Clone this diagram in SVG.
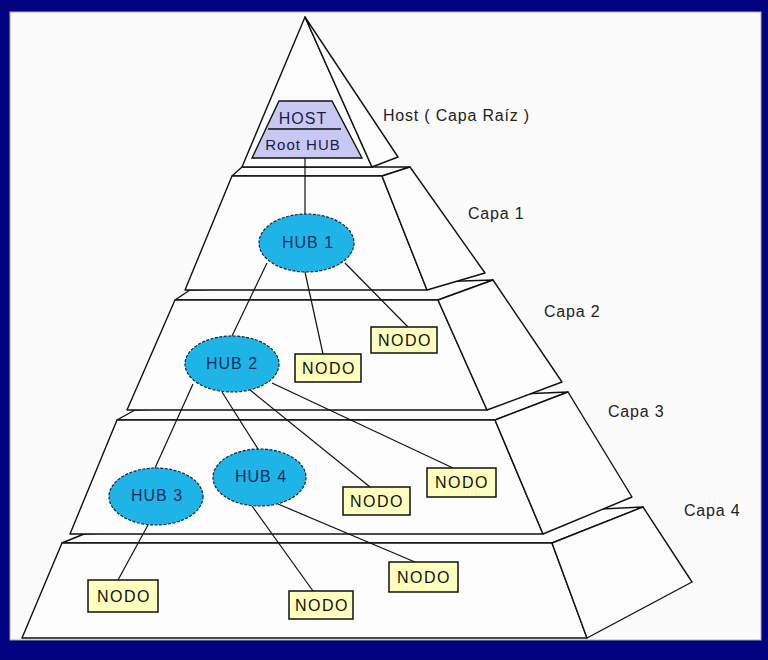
<svg xmlns="http://www.w3.org/2000/svg" width="768" height="660" viewBox="0 0 768 660">
<style>
.face{fill:#fdfdfd;stroke:#111;stroke-width:1.4;stroke-linejoin:round}
.conn line{stroke:#111;stroke-width:1.2}
.hub{fill:#1eb4e8;stroke:#0a2540;stroke-width:1.2;stroke-dasharray:3 1.5}
.hubt{font-family:"Liberation Sans",Arial,sans-serif;font-size:16px;letter-spacing:1px;fill:#14305a;text-anchor:middle}
.box{fill:#ffffbe;stroke:#111;stroke-width:1.5}
.boxt{font-family:"Liberation Sans",Arial,sans-serif;font-size:16px;letter-spacing:1.5px;fill:#111;text-anchor:middle}
.lbl{font-family:"Liberation Sans",Arial,sans-serif;font-size:16px;letter-spacing:0.8px;fill:#222}
.hostt{font-family:"Liberation Sans",Arial,sans-serif;letter-spacing:1px;fill:#1a1a50;text-anchor:middle}
</style>
<rect x="0" y="0" width="768" height="660" fill="#03037f"/>
<rect x="10" y="12" width="751" height="628" fill="#fbfbfc" stroke="#a8a8c4" stroke-width="1"/>
<g id="pyramid">
<g id="layer4">
<polygon class="face" points="62,543 84,534 643,507 552,543"/>
<polygon class="face" points="62,543 552,543 587,638 22,638"/>
<polygon class="face" points="552,543 643,507 692,582 587,638"/>
</g>
<g id="layer3">
<polygon class="face" points="117,420 135,410 568,392 495,420"/>
<polygon class="face" points="117,420 495,420 543,534 70,534"/>
<polygon class="face" points="495,420 568,392 632,497 543,534"/>
</g>
<g id="layer2">
<polygon class="face" points="175,300 190,290 493,280 438,300"/>
<polygon class="face" points="175,300 438,300 487,410 127,410"/>
<polygon class="face" points="438,300 493,280 562,382 487,410"/>
</g>
<g id="layer1">
<polygon class="face" points="232,176 242,167 410,167 382,176"/>
<polygon class="face" points="232,176 382,176 427,290 185,290"/>
<polygon class="face" points="382,176 410,167 485,273 427,290"/>
</g>
<g id="layer0">
<polygon class="face" points="305,17 242,167 372,167"/>
<polygon class="face" points="305,17 398,157 372,167"/>
</g>
</g>
<g id="labels">
<text class="lbl" x="383" y="121">Host ( Capa Raíz )</text>
<text class="lbl" x="468" y="219">Capa 1</text>
<text class="lbl" x="544" y="317">Capa 2</text>
<text class="lbl" x="608" y="417">Capa 3</text>
<text class="lbl" x="684" y="516">Capa 4</text>
</g>
<g id="connectors" class="conn">
<line x1="305" y1="158" x2="305" y2="214"/>
<line x1="267" y1="263" x2="232" y2="336"/>
<line x1="305" y1="272" x2="323" y2="354"/>
<line x1="345" y1="263" x2="408" y2="327"/>
<line x1="193" y1="384" x2="155" y2="468"/>
<line x1="222" y1="392" x2="258" y2="449"/>
<line x1="250" y1="390" x2="370" y2="487"/>
<line x1="272" y1="383" x2="453" y2="468"/>
<line x1="148" y1="525" x2="118" y2="580"/>
<line x1="252" y1="506" x2="313" y2="591"/>
<line x1="278" y1="504" x2="415" y2="562"/>
</g>
<g id="host">
<polygon points="279,101 332,101 362,158 252,158" fill="#c8c8f2" stroke="#111" stroke-width="1.4"/>
<line x1="268" y1="129" x2="341" y2="129" stroke="#111" stroke-width="1.4"/>
<text class="hostt" x="303" y="124" font-size="16">HOST</text>
<text class="hostt" x="303" y="150" font-size="15">Root HUB</text>
</g>
<g id="hub1"><ellipse class="hub" cx="306.5" cy="243" rx="47.5" ry="29"/><text class="hubt" x="308" y="248">HUB 1</text></g>
<g id="hub2"><ellipse class="hub" cx="232" cy="364" rx="47" ry="28"/><text class="hubt" x="232" y="369">HUB 2</text></g>
<g id="hub3"><ellipse class="hub" cx="156" cy="496.5" rx="47" ry="28.5"/><text class="hubt" x="157" y="501">HUB 3</text></g>
<g id="hub4"><ellipse class="hub" cx="259.5" cy="477.5" rx="46.5" ry="28.5"/><text class="hubt" x="261" y="482">HUB 4</text></g>
<g id="nodo1"><rect class="box" x="371" y="327" width="66" height="26"/><text class="boxt" x="405" y="346">NODO</text></g>
<g id="nodo2"><rect class="box" x="295" y="354" width="66" height="28"/><text class="boxt" x="329" y="374">NODO</text></g>
<g id="nodo3"><rect class="box" x="343" y="487" width="67" height="28"/><text class="boxt" x="377" y="507">NODO</text></g>
<g id="nodo4"><rect class="box" x="427" y="468" width="69" height="29"/><text class="boxt" x="462" y="488">NODO</text></g>
<g id="nodo5"><rect class="box" x="389" y="562" width="69" height="30"/><text class="boxt" x="424" y="583">NODO</text></g>
<g id="nodo6"><rect class="box" x="289" y="591" width="64" height="28"/><text class="boxt" x="322" y="611">NODO</text></g>
<g id="nodo7"><rect class="box" x="88" y="580" width="70" height="32"/><text class="boxt" x="124" y="602">NODO</text></g>
</svg>
